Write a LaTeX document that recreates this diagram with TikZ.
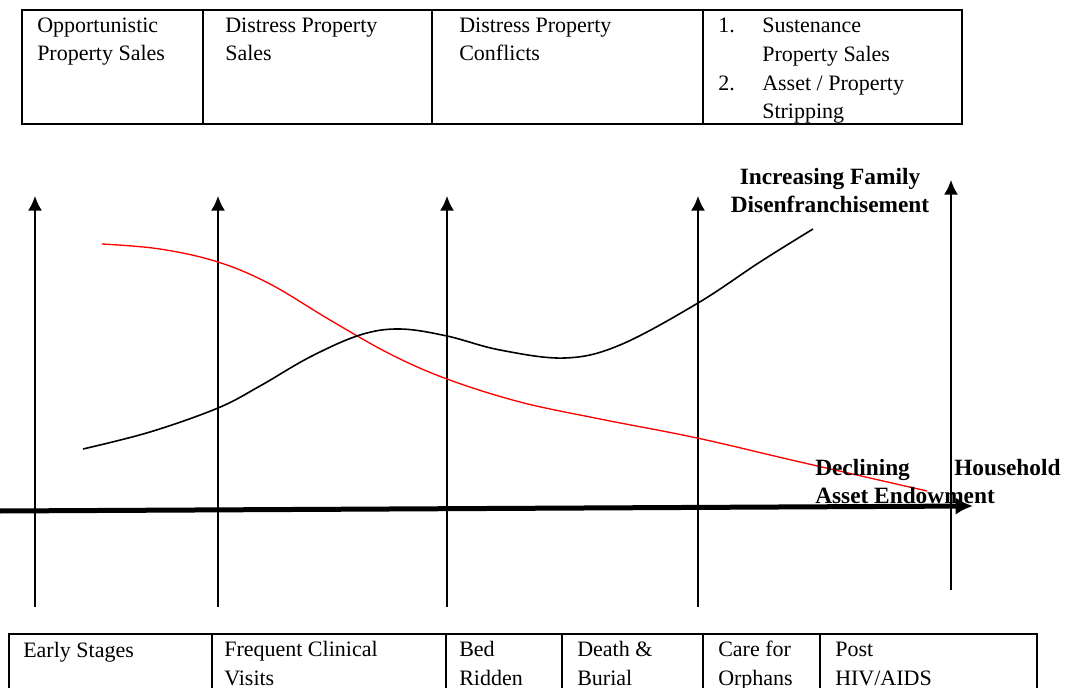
\documentclass[tikz,border=0pt]{standalone}
\usepackage{fontspec}
\setmainfont{Liberation Serif}
\usetikzlibrary{arrows.meta,positioning}
\tikzset{>=latex}
\tikzset{cell/.style={anchor=base west,align=left,inner sep=0pt,font=\fontsize{16.5}{21.4}\selectfont}}
\tikzset{grid/.style={line width=1.5pt}}
\tikzset{stage/.style={line width=1.2pt,-{Latex[length=11pt,width=10.5pt]}}}
\tikzset{trend/.style={line width=1.2pt}}
\tikzset{boldlabel/.style={inner sep=0pt,font=\fontsize{17.5}{21}\selectfont\bfseries}}

\begin{document}
\begin{tikzpicture}[x=0.75pt,y=-0.75pt]
      \useasboundingbox (0,0) rectangle (1065,688);
      % property outcomes (base sits on the last line)
      \draw[grid] (22,10) rectangle (962,124);
      \foreach \x in {203,432,703} \draw[grid] (\x,10) -- (\x,124);
      \node[cell] (opp) at (37,61) {Opportunistic\\Property Sales};
      \node[cell] (dsales) at (225,61) {Distress Property\\Sales};
      \node[cell] (dconf) at (459,61) {Distress Property\\Conflicts};
      \node[cell] (strip) at (718,33) {\begin{tabular}[t]{@{}p{33pt}@{}l@{}}
          1. & Sustenance\\ & Property Sales\\ 2. & Asset / Property\\ & Stripping
        \end{tabular}};
      % illness stages
      \draw[grid] (9,690) -- (9,634) -- (1037,634) -- (1037,690);
      \foreach \x in {212,446,562,703,820} \draw[grid] (\x,634) -- (\x,690);
      \node[cell] (early) at (23,657) {Early Stages};
      \node[cell] (visits) at (224,685) {Frequent Clinical\\Visits};
      \node[cell] (bed) at (459,685) {Bed\\Ridden};
      \node[cell] (death) at (577,685) {Death \&\\Burial};
      \node[cell] (orph) at (718,685) {Care for\\Orphans};
      \node[cell] (post) at (835,685) {Post\\HIV/AIDS};
      % stage arrows
      \foreach \n/\x in {1/35,2/218,3/447,4/698} {
        \coordinate (b\n) at (\x,607);
        \coordinate (t\n) at (\x,196);
        \draw[stage] (b\n) -- (t\n);
      }
      \coordinate (b5) at (951,590);
      \coordinate (t5) at (951,180);
      \draw[stage] (b5) -- (t5);
      % time axis
      \coordinate (ax0) at (0,511);
      \coordinate (ax1) at (973,506);
      \draw[line width=3.75pt,-{Latex[length=13pt,width=13pt]}] (ax0) -- (ax1);
      % trends
      \draw[trend,red,line width=1pt] plot[smooth,tension=0.6] coordinates {(102,244) (160,249) (218,262) (270,284) (330,320) (390,354) (447,379) (520,402) (600,419) (697,438) (800,462) (927,491)};
      \draw[trend] plot[smooth,tension=0.6] coordinates {(83,449) (150,432) (218,408) (260,386) (310,357) (360,335) (400,329) (447,336) (500,350) (565,358) (620,345) (698,303) (760,262) (813,229)};
      \node[boldlabel,align=center,anchor=base] (fam) at (830,213) {Increasing Family\\Disenfranchisement};
      \node[boldlabel,align=left,anchor=base west] (asset) at (815,503) {\makebox[184pt][s]{Declining\hfill Household}\\Asset Endowment};
\end{tikzpicture}
\end{document}
